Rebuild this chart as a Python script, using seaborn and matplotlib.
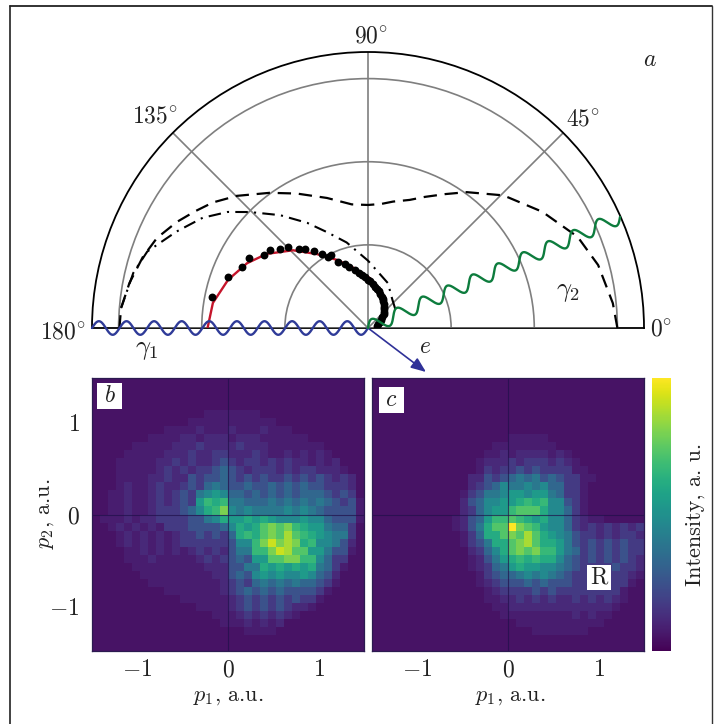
import numpy as np
import pandas as pd
import matplotlib
matplotlib.use("Agg")
import matplotlib.pyplot as plt
import seaborn as sns
from matplotlib.patches import Rectangle

sns.set_theme(style="white")
plt.rcParams["font.family"] = ["cmr10", "DejaVu Serif"]
plt.rcParams["mathtext.fontset"] = "cm"
plt.rcParams["axes.unicode_minus"] = False

W, H = 723, 724

# polar panel a, angle in degrees, radius in grid rings
dash_theta = [0, 5.8, 15.3, 23.5, 33.7, 44.4, 54, 60, 66.5, 72, 78.8, 84, 90, 97.5, 107.5, 117.9, 126, 134.8,
              141, 146, 151, 156.9, 162.5, 169.3, 175.4, 180]
dash_r = [3.0, 2.96, 2.87, 2.75, 2.52, 2.28, 2.02, 1.86, 1.72, 1.62, 1.55, 1.50, 1.48, 1.50, 1.64, 1.83, 2.01, 2.24,
          2.40, 2.51, 2.63, 2.76, 2.84, 2.92, 2.98, 2.99]
dashdot_theta = [35, 49.4, 66, 90, 104, 113, 120, 127.9, 135.5, 140.4, 146.3, 153.3, 160.9, 166.8, 175.4]
dashdot_r = [0.40, 0.45, 0.59, 0.81, 1.06, 1.25, 1.46, 1.72, 1.99, 2.19, 2.39, 2.58, 2.81, 2.90, 2.98]
red_theta = [0, 28, 48, 68, 87.7, 104, 114.5, 124.6, 134, 143.8, 151.8, 161, 170.8, 180]
red_r = [0.08, 0.20, 0.33, 0.45, 0.60, 0.75, 0.90, 1.08, 1.30, 1.51, 1.65, 1.78, 1.89, 1.93]
dot_theta = [168.6, 160, 154.2, 149.3, 145, 141.5, 137.9, 134.6, 131.4, 128.5, 125.3, 122.1, 119.3,
             117.1, 114.9, 109.8, 107.1, 102.5, 99, 96, 93.4, 90.5, 87.5, 84, 80.4, 77, 73.1, 70, 66.4,
             63, 59.8, 56.5, 53.1, 49, 45.5, 41.5, 37.6, 32.5, 27.7, 21, 14.8]
dot_r = [1.91, 1.79, 1.68, 1.66, 1.53, 1.50, 1.42, 1.37, 1.26, 1.22, 1.13, 1.05, 0.98,
         0.98, 0.87, 0.82, 0.77, 0.72, 0.67, 0.64, 0.61, 0.58, 0.56, 0.53, 0.50, 0.48, 0.46, 0.43, 0.41,
         0.39, 0.37, 0.34, 0.32, 0.30, 0.27, 0.25, 0.22, 0.19, 0.16, 0.13, 0.11]

b_rows = [
    "0" * 34, "0" * 34, "0" * 34, "0" * 34,
    "00000000000000 1111111 0000000000000",
    "000000000000 11111111111 00000000000",
    "000000000 1111211121112111 000000000",
    "0000000 1111 2212221222 111111 0000000",
    "00000 11111 222322223222 1111111 00000",
    "0000 11111 2223223322232 11212121 0000",
    "000 11111 2232322 343 23323232 21212 000",
    "000 11111 232323 3454 3233323233 2221 00",
    "000 1111 22322 4344 54 34343343434 3232 0",
    "000 1211 2322 343 565 4 45445454544 3332 0",
    "00 11211 232 343 67 87 5 54545 4545554 343 0",
    "00 11211 232 343 8a 9a 6 65556 5656565 434 1",
    "00 11211 233 34 57 9 a c 7 6766 667676 54 444 1",
    "0 111212 2 3333 44 67 9 8 89898 777877 544 4 1",
    "00 1212121 333 444 45 7 989 bcbc a988 655 3 0",
    "000 12121212 334 343 5 9a9 bcbd ba98 766 3 0",
    "000 12121212 333333 4 77 a c e c d c 9a 77 6 4 2 0",
    "0000 11212121 23232 4 66 aa c e d bb 88 6 44 1 0",
    "0000 111211111 2323 454 88 bb cc aa 7 5 33 00",
    "00000 111111111 222 44 66 9898 989 6 5 3 1 00",
    "000000 111111111 22 454 78787 787 5 4 2 000",
    "0000000 111111111 2 343 565656 55 4 3 1 000",
    "000000000 1111111 23 45454544 44 3 1 0000",
    "00000000000 111111 2 34343434 33 1 00000",
    "0000000000000 1111 2 3434343 22 1 000000",
    "000000000000000 111 2323232 1 00000000",
    "0000000000000000 11 121212 0000000000",
    "0000000000000000000 1111 00000000000",
    "0" * 34, "0" * 34,
]
c_rows = [
    "0" * 34, "0" * 34, "0" * 34, "0" * 34, "0" * 34, "0" * 34, "0" * 34,
    "00000000000000000 11111 000000000000",
    "000000000000000 11111111 00000000000",
    "00000000000000 11212222121 000000000",
    "0000000000000 1222323332321 00000000",
    "0000000000000 1 323 34343 333 11 0000000",
    "000000000000 22 434 5656 454 33 11 000000",
    "000000000000 234 576 6767 55 33 1 0000000",
    "00000000000 134 66 7 88788 6 5 33 1 0000000",
    "00000000000 245 77 88 9a9a 77 4 3 1 0000000",
    "00000000000 235 7 88 a bbb 9 77 5 3 1 0000000",
    "0000000000 1 2 4 5 8 aa b a 989 77 5 3 2 11 00000",
    "0000000000 1 2 4 6 9 bb f c b a 8 77 5 3 23232323",
    "00000000000 1 3 5 99 b c b d b 9 8 7 6 4 3 323233 2",
    "00000000000 1 3 4 6 99 b c d b 99 8 6 4 3434343 3",
    "000000000000 2 3 5 7 9 bcbc aa 8 6 5 3434343 3",
    "000000000000 1 2 4 6 8 9a9a 99 7 5 4 3434343 2",
    "000000000000 1 2 3 5 6 8988 77 6 5 4 3333433 2",
    "0000000000000 1 3 4 5 5 67676 5 4 3333333 2 1",
    "0000000000000 1 23 44 45454 44 3333333 1 0",
    "00000000000000 1 2 333 34343 3333333 1 00",
    "00000000000000 1 12 2323232 2323232 1 00",
    "000000000000000 1 12 222222 222222 1 000",
    "0000000000000000 1 1111111 12121 1 0000",
    "000000000000000000 11111111111 00000",
    "00000000000000000000 1111111 0000000",
    "0" * 34, "0" * 34,
]
# colour position of each hex level on the viridis bar
level_values = [0.05, 0.08, 0.115, 0.17, 0.25, 0.33, 0.40, 0.47,
                0.54, 0.61, 0.67, 0.73, 0.80, 0.87, 0.92, 1.0]

p_ticks = [-1, -0.5, 0, 0.5, 1]
p_labels = ["$-1$", "", "$0$", "", "$1$"]
cbar_ticks = [0.2, 0.4, 0.6, 0.8]

P_MAX = 1.49
DARK = "#1c1c55"
GRID = "#7f7f7f"


def read_cells(rows):
    table = []
    for row in rows:
        row = row.replace(" ", "")
        assert len(row) == 34, row
        table.append([level_values[int(ch, 16)] for ch in row])
    return pd.DataFrame(table)


def px_axes(x0, y0, x1, y1, **kw):
    return fig.add_axes([x0 / W, 1 - y1 / H, (x1 - x0) / W, (y1 - y0) / H], **kw)


def to_cell(p, n=34):
    return (np.asarray(p) + P_MAX) / (2 * P_MAX) * n


def photon(ax, x0, y0, x1, y1, periods, amp, color):
    # wavy photon line, only a decoration
    t = np.linspace(0, 1, 600)
    length = np.hypot(x1 - x0, y1 - y0)
    ux, uy = (x1 - x0) / length, (y1 - y0) / length
    wave = amp * np.sin(2 * np.pi * periods * t)
    xs = x0 + (x1 - x0) * t + uy * wave
    ys = y0 + (y1 - y0) * t - ux * wave
    sns.lineplot(x=xs, y=ys, sort=False, estimator=None, color=color, linewidth=1.7, ax=ax, zorder=6)


def p_panel(x0, values, show_y, cax=None):
    ax = px_axes(x0, 378, x0 + 272, 651)
    sns.heatmap(values, cmap="viridis", vmin=0, vmax=1, ax=ax, square=False,
                cbar=cax is not None, cbar_ax=cax,
                xticklabels=False, yticklabels=False)
    ax.set_xticks(to_cell(p_ticks), p_labels)
    ax.set_yticks(to_cell(p_ticks[::-1]), p_labels if show_y else [""] * 5, va="center_baseline")
    ax.tick_params(axis="both", direction="in", length=5, width=1.2, color=DARK, labelsize=17,
                   bottom=True, left=True, pad=6, labelcolor="#222222")
    ax.tick_params(axis="y", labelrotation=0, pad=9)
    ax.axvline(to_cell(0), color="#20104a", lw=0.8, alpha=0.7)
    ax.axhline(to_cell(0), color="#20104a", lw=0.8, alpha=0.7)
    for side in ["left", "bottom", "top", "right"]:
        ax.spines[side].set_visible(True)
        ax.spines[side].set_color("#2b1a50")
        ax.spines[side].set_linewidth(0.9)
    return ax


fig = plt.figure(figsize=(W / 100, H / 100), dpi=100, facecolor="white")

# polar panel, the half disc sits centred in a square box
pol = px_axes(92, -86, 644, 466, projection="polar")
pol.set_thetalim(0, np.pi)
sns.lineplot(x=np.radians([0, 0]), y=[0, 3], color=GRID, linewidth=1.8, ax=pol, zorder=3, estimator=None)
sns.lineplot(x=np.radians([180, 180]), y=[0, 3], color=GRID, linewidth=1.8, ax=pol, zorder=3, estimator=None)
sns.lineplot(x=np.radians(dash_theta), y=dash_r, sort=False, estimator=None, color="black",
             linewidth=1.6, linestyle=(0, (6, 3.5)), ax=pol, zorder=4)
sns.lineplot(x=np.radians(dashdot_theta), y=dashdot_r, sort=False, estimator=None, color="black",
             linewidth=1.5, linestyle=(0, (6, 3, 1, 3)), ax=pol, zorder=4)
sns.lineplot(x=np.radians(red_theta), y=red_r, sort=False, estimator=None, color="#c5152b",
             linewidth=1.7, ax=pol, zorder=4)
sns.scatterplot(x=np.radians(dot_theta), y=dot_r, color="black", s=32, linewidth=0, ax=pol, zorder=5)
pol.set_rlim(0, 3.32)
pol.set_rticks([1, 2, 3])
pol.set_yticklabels([])
pol.set_xticks(np.radians([45, 90, 135]))
pol.set_xticklabels([])
pol.tick_params(length=0)
pol.grid(True, color=GRID, linewidth=1.2)
pol.set_xlabel("")
pol.set_ylabel("")
for spine in pol.spines.values():
    spine.set_color("black")
    spine.set_linewidth(1.3)

cax = px_axes(652, 378, 671, 651)
ax_b = p_panel(92, read_cells(b_rows), True)
ax_c = p_panel(372, read_cells(c_rows), False, cax=cax)
cax.set_yticks(cbar_ticks)
cax.tick_params(axis="y", direction="in", length=5, width=1.2, color=DARK, labelright=False, right=True)
for spine in cax.spines.values():
    spine.set_visible(False)

# overlay in pixel coordinates for the frame, labels and arrows
ov = fig.add_axes([0, 0, 1, 1], zorder=10)
ov.set_xlim(0, W)
ov.set_ylim(H, 0)
ov.axis("off")
ov.plot([10, 10], [724, 6], color="#333333", lw=1.3)
ov.plot([10, 712], [6, 6], color="#222222", lw=1.3)
ov.plot([712, 712], [6, 724], color="#333333", lw=1.0)

photon(ov, 92, 328, 368, 328, 10, 6.8, "#2f3b98")
photon(ov, 368, 328, 620, 217, 10, 6.8, "#0d7c3d")
ov.annotate("", xy=(426, 372), xytext=(368, 328),
            arrowprops=dict(arrowstyle="-|>,head_length=0.75,head_width=0.3", color="#2f3198", lw=1.2,
                            shrinkA=0, shrinkB=0))

TXT = "#222222"
for x, y, s in [(371, 36, r"$90^{\circ}$"), (155, 116, r"$135^{\circ}$"), (583, 119, r"$45^{\circ}$"),
                (63, 332, r"$180^{\circ}$"), (661, 329, r"$0^{\circ}$")]:
    ov.text(x, y, s, ha="center", va="center", fontsize=17, color=TXT)
ov.text(650, 60, "$a$", ha="center", va="center", fontsize=17, color=TXT)
ov.text(425, 347, "$e$", ha="center", va="center", fontsize=17, color=TXT)
ov.text(147, 350, r"$\gamma_1$", ha="center", va="center", fontsize=19, color=TXT)
ov.text(568, 292, r"$\gamma_2$", ha="center", va="center", fontsize=19, color=TXT)

for (x0, y0, x1, y1), s in [((97, 383, 122, 409), "$b$"), ((379, 387, 404, 413), "$c$"),
                            ((587, 565, 611, 590), "R")]:
    ov.add_patch(Rectangle((x0, y0), x1 - x0, y1 - y0, facecolor="white", edgecolor="none"))
    ov.text((x0 + x1) / 2, (y0 + y1) / 2, s, ha="center", va="center", fontsize=17, color=TXT)

ov.text(228, 697, "$p_1$, a.u.", ha="center", va="center", fontsize=16, color=TXT)
ov.text(510, 697, "$p_1$, a.u.", ha="center", va="center", fontsize=16, color=TXT)
ov.text(46, 514, "$p_2$, a.u.", ha="center", va="center", rotation=90, fontsize=16, color=TXT)
ov.text(695, 514, "Intensity, a. u.", ha="center", va="center", rotation=90, fontsize=16, color=TXT)

fig.savefig("out.png", dpi=100)
